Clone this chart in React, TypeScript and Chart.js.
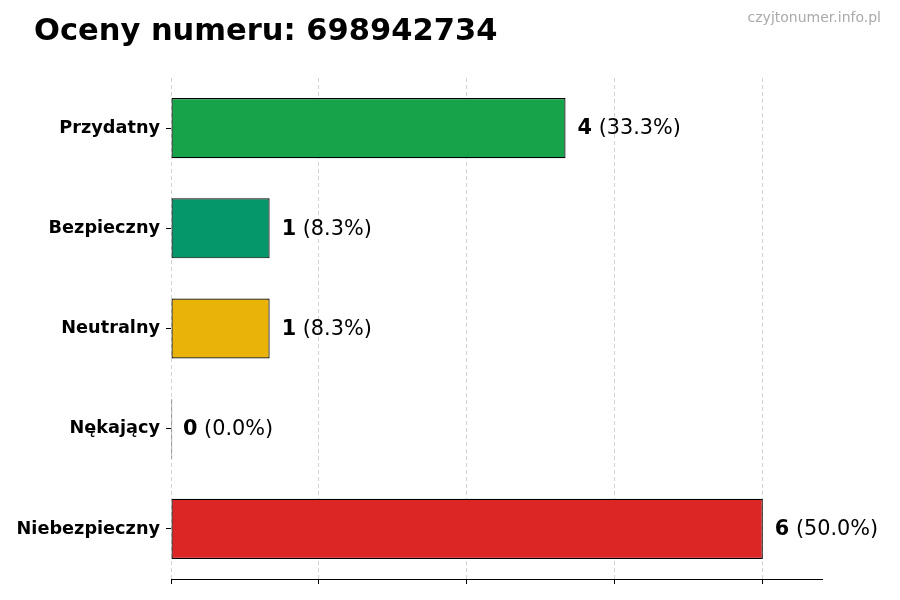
import { useEffect, useRef } from "react"
import { Chart, registerables, type ChartConfiguration, type Plugin } from "chart.js"

Chart.register(...registerables)

const categories = ["Przydatny", "Bezpieczny", "Neutralny", "Nękający", "Niebezpieczny"]
const counts = [4, 1, 1, 0, 6]
const barColors = ["#16a34a", "#059669", "#eab308", "#f97316", "#dc2626"]
const xTicks = [0, 1.5, 3, 4.5, 6]

const FONT = "'DejaVu Sans', sans-serif"

// Title, watermark and the "n (xx.x%)" labels next to each bar
const annotate: Plugin<"bar"> = {
  id: "annotate",
  afterDraw(chart) {
    const ctx = chart.ctx
    const total = counts.reduce((a, b) => a + b, 0)
    ctx.save()
    ctx.textBaseline = "alphabetic"
    ctx.textAlign = "left"
    ctx.fillStyle = "#000"
    ctx.font = `bold 30.5px ${FONT}`
    ctx.fillText("Oceny numeru: 698942734", 34, 40)

    ctx.textAlign = "right"
    ctx.fillStyle = "#aaaaaa"
    ctx.font = `14px ${FONT}`
    ctx.fillText("czyjtonumer.info.pl", 881, 22)

    ctx.textAlign = "left"
    ctx.textBaseline = "middle"
    ctx.fillStyle = "#000"
    const meta = chart.getDatasetMeta(0)
    meta.data.forEach((bar, i) => {
      const value = counts[i]
      const x = chart.scales.x.getPixelForValue(value) + 12
      const y = bar.y + 1
      const num = String(value)
      const pct = ` (${((value / total) * 100).toFixed(1)}%)`
      ctx.font = `bold 20.8px ${FONT}`
      ctx.fillText(num, x, y)
      const w = ctx.measureText(num).width
      ctx.font = `20.8px ${FONT}`
      ctx.fillText(pct, x + w, y)
    })
    ctx.restore()
  },
}

export default function App() {
  const canvasRef = useRef<HTMLCanvasElement>(null)

  useEffect(() => {
    if (!canvasRef.current) return

    const config: ChartConfiguration<"bar"> = {
      type: "bar",
      data: {
        labels: categories,
        datasets: [
          {
            data: counts,
            backgroundColor: barColors,
            borderColor: "#000",
            borderWidth: 1.2,
            borderSkipped: false,
            minBarLength: 1.2,
            barPercentage: 0.6,
            categoryPercentage: 1,
          },
        ],
      },
      options: {
        indexAxis: "y",
        responsive: false,
        animation: false,
        devicePixelRatio: 1,
        layout: { padding: { left: 0, top: 78, right: 78, bottom: 16 } },
        plugins: {
          legend: { display: false },
          tooltip: { enabled: false },
          title: { display: false },
        },
        scales: {
          x: {
            type: "linear",
            min: 0,
            max: 6.6,
            z: 1,
            afterBuildTicks: (scale) => {
              scale.ticks = xTicks.map((v) => ({ value: v }))
            },
            ticks: { display: false },
            grid: {
              color: "rgba(200,200,200,0.8)",
              lineWidth: 1,
              tickLength: 5,
              tickColor: "#000",
              tickBorderDash: [],
            } as any,
            border: { display: true, color: "#000", width: 1, dash: [4, 3] },
          },
          y: {
            type: "category",
            offset: true,
            afterFit: (scale) => {
              scale.width = 171
            },
            ticks: {
              color: "#000",
              padding: 6,
              font: { family: FONT, size: 17.7, weight: "bold" },
            },
            grid: {
              offset: false,
              drawOnChartArea: false,
              drawTicks: true,
              tickLength: 5,
              tickColor: "#000",
            },
            border: { display: false },
          },
        },
      },
      plugins: [annotate],
    }

    const chart = new Chart(canvasRef.current, config)
    return () => chart.destroy()
  }, [])

  return (
    <div style={{ position: "absolute", left: 0, top: 0, width: 900, height: 600, background: "#fff" }}>
      <canvas ref={canvasRef} width={900} height={600} style={{ width: 900, height: 600 }} />
    </div>
  )
}
